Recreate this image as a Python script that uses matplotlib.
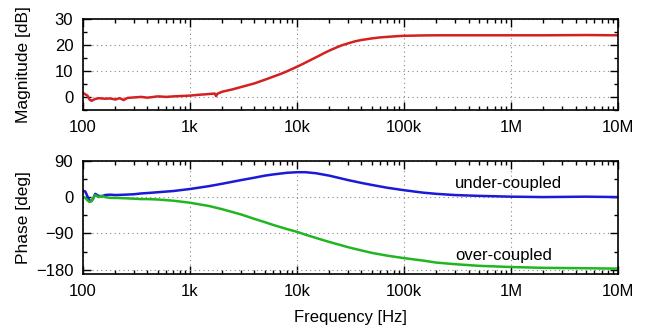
import numpy as np
import matplotlib
matplotlib.use("Agg")
import matplotlib.pyplot as plt
from matplotlib.ticker import FixedLocator, LogLocator, NullFormatter

plt.rcParams['font.family'] = ['Liberation Sans', 'DejaVu Sans']

# magnitude response
f_mag = [100, 105, 110, 115, 120, 130, 140, 160, 180, 200, 220, 240, 260, 300,
         350, 400, 500, 600, 700, 800, 1000, 1200, 1400, 1600, 1700, 1750, 1800,
         2000, 2500, 3000, 4000, 5000, 6000, 7000, 8000, 10000, 12000, 14000,
         16000, 18000, 20000, 23000, 26000, 30000, 35000, 40000, 50000, 60000,
         70000, 85000, 100000, 150000, 200000, 500000, 1e6, 2e6, 5e6, 1e7]
mag_db = [1.5, 1.0, 0.5, -1.0, -1.5, -0.8, -0.5, -0.7, -0.6, -1.0, -0.5, -1.2,
          -0.4, -0.2, 0.0, -0.3, 0.2, 0.0, 0.2, 0.3, 0.5, 0.8, 1.0, 1.2, 1.3,
          0.3, 1.2, 2.0, 2.9, 3.8, 5.2, 6.6, 7.8, 8.8, 9.8, 11.6, 13.2, 14.6,
          15.8, 16.9, 17.8, 18.9, 19.8, 20.6, 21.4, 21.9, 22.5, 22.9, 23.1,
          23.35, 23.5, 23.65, 23.7, 23.7, 23.7, 23.7, 23.8, 23.7]

# phase responses
f_ph = [100, 105, 110, 115, 120, 125, 130, 140, 150, 160, 180, 200, 250, 300,
        350, 400, 500, 700, 1000, 1500, 2000, 3000, 4000, 5000, 6000, 8000,
        10000, 12000, 15000, 20000, 25000, 30000, 40000, 50000, 70000, 100000,
        150000, 200000, 300000, 500000, 1e6, 2e6, 5e6, 1e7]
ph_under = [15, 14, 2, -8, -10, -3, 8, 3, 2, 5, 6, 5, 6, 7, 9, 10, 12, 15, 20,
            27, 33, 42, 48, 53, 56, 60, 61.5, 61.5, 59, 53, 47, 42, 35, 30, 23,
            17, 11, 8, 5, 3, 1, 0, 1, 0]
ph_over = [0, -2, -8, -12, -10, -2, 5, 0, 3, 0, -2, -2, -3, -4, -5, -5, -6,
           -9, -14, -22, -30, -43, -54, -62, -69, -79, -86, -93, -101, -111,
           -118, -124, -132, -138, -145, -151, -157, -162, -166, -170, -173,
           -175, -176, -177]

freq_ticks = [1e2, 1e3, 1e4, 1e5, 1e6, 1e7]
freq_labels = ['100', '1k', '10k', '100k', '1M', '10M']

fig = plt.figure(figsize=(6.51, 3.32), dpi=100)
ax1 = fig.add_axes([0.1275, 0.669, 0.822, 0.274])
ax2 = fig.add_axes([0.1275, 0.175, 0.822, 0.341])

for ax in (ax1, ax2):
    ax.set_xscale('log')
    ax.set_xlim(100, 1e7)
    ax.xaxis.set_major_locator(FixedLocator(freq_ticks))
    ax.set_xticklabels(freq_labels)
    ax.xaxis.set_minor_locator(LogLocator(base=10, subs=np.arange(2, 10)))
    ax.xaxis.set_minor_formatter(NullFormatter())
    ax.tick_params(which='both', direction='in', top=True, right=True,
                   labelsize=12, pad=7)
    ax.tick_params(which='major', length=6, width=1)
    ax.tick_params(which='minor', length=3, width=1)
    ax.grid(True, which='major', linestyle=(0, (1, 3)), color='#888888',
            linewidth=0.8)
    for s in ax.spines.values():
        s.set_linewidth(1.2)

ax1.plot(f_mag, mag_db, color='#d42020', linewidth=1.8)
ax1.set_ylim(-5, 30)
ax1.set_yticks([0, 10, 20, 30])
ax1.set_yticks([-5, 5, 15, 25], minor=True)
ax1.set_ylabel('Magnitude [dB]', fontsize=12.5)

ax2.plot(f_ph, ph_under, color='#1a1ad8', linewidth=1.8)
ax2.plot(f_ph, ph_over, color='#22b522', linewidth=1.8)
ax2.set_ylim(-190, 90)
ax2.set_yticks([-180, -90, 0, 90])
ax2.set_yticks([-135, -45, 45], minor=True)
ax2.set_ylabel('Phase [deg]', fontsize=12.5)
ax2.set_xlabel('Frequency [Hz]', fontsize=12, labelpad=8)
ax2.text(3.0e5, 34, 'under-coupled', fontsize=12, va='center')
ax2.text(3.0e5, -145, 'over-coupled', fontsize=12, va='center')

ax1.yaxis.set_label_coords(-0.097, 0.5)
ax2.yaxis.set_label_coords(-0.097, 0.5)
fig.savefig('out.png', dpi=100)
